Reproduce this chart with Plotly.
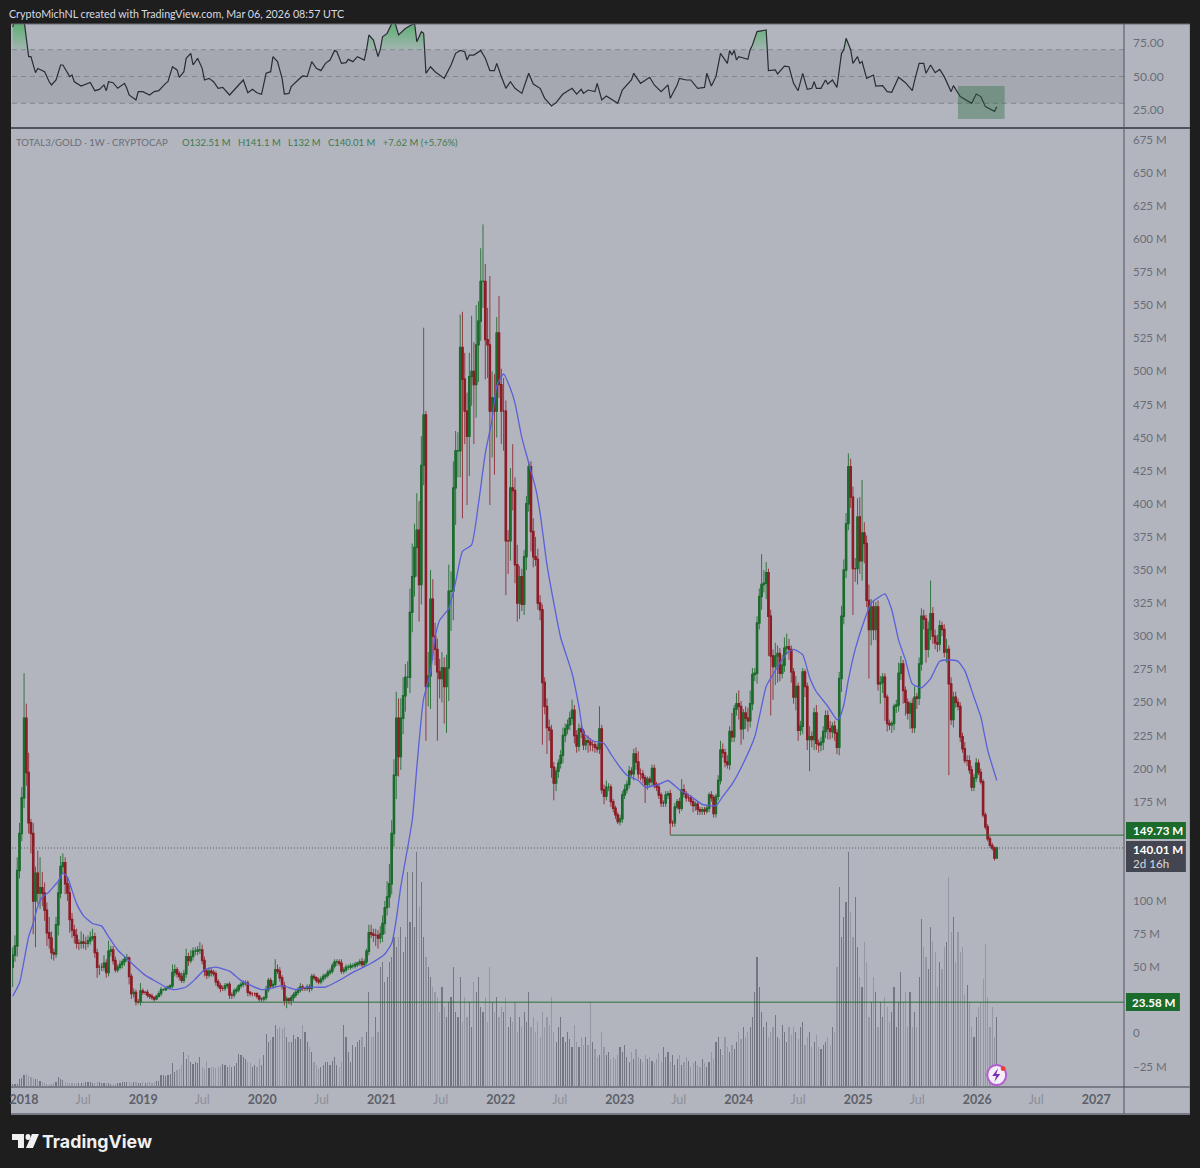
import pandas as pd
import plotly.graph_objects as go

# ---------- weekly data (one row = one quarter) ----------
closes = [
59,66,123,151,178,
238,197,159,151,100,121,106,110,106,93,76,72,61,
60,82,106,126,129,113,106,86,78,74,68,68,69,
68,68,70,72,73,61,50,50,50,53,46,62,63,
55,48,50,52,54,56,57,43,30,31,24,24,32,
31,31,29,28,27,26,28,30,33,33,34,35,36,
46,48,45,43,40,45,58,55,58,62,62,63,63,
55,47,44,47,46,45,39,36,34,34,36,37,29,
29,32,33,36,37,38,38,31,30,30,30,28,26,
26,27,33,40,36,37,48,47,42,36,25,26,25,
27,29,31,33,35,34,34,35,34,43,42,40,39,
41,43,44,46,47,51,54,54,53,47,48,50,50,
51,51,52,53,54,52,54,62,76,75,74,74,72,
75,83,95,103,113,151,195,238,209,238,255,269,269,
318,345,367,380,339,429,467,262,270,328,300,290,273,
268,276,262,276,334,334,412,440,440,518,494,470,451,
496,500,490,520,538,568,568,524,520,470,480,470,529,
490,470,470,372,372,412,410,354,325,345,324,360,400,
428,379,360,358,325,320,265,247,231,229,201,189,198,
204,210,225,230,233,238,244,225,217,230,228,218,221,
220,218,218,216,215,230,184,179,186,186,175,170,165,
160,162,180,184,188,198,196,211,205,196,196,193,188,
192,190,200,188,186,180,174,174,180,181,159,159,171,
175,170,184,181,178,178,175,172,173,169,168,169,168,
170,180,178,166,179,191,214,212,205,203,228,224,245,
249,247,230,242,238,236,249,271,272,310,330,339,340,
348,315,285,277,285,287,272,278,291,292,290,273,254,
262,229,232,273,262,222,224,222,242,219,218,220,228,
240,230,228,232,227,216,268,315,350,385,428,405,351,
351,390,357,378,370,327,305,322,305,322,264,265,269,
254,234,233,234,247,248,272,279,259,250,242,249,231,
254,253,279,315,313,290,305,317,300,295,294,308,305,
288,290,264,237,254,250,247,224,215,206,206,199,186,
193,204,197,190,165,156,147,142,140,132.51,140.01]

upper_wick = [
6,8,10,8,8,
34,11,15,3,8,5,17,23,12,8,6,12,5,
3,6,8,8,7,4,5,6,5,4,5,3,8,
6,5,4,5,6,3,3,2,3,6,3,8,3,
3,3,2,3,2,2,3,1,2,3,2,2,6,
2,1,2,1,2,1,1,2,2,1,1,1,1,
6,4,2,2,3,3,6,3,5,3,3,3,6,
4,3,2,3,2,2,2,2,2,2,2,1,2,
2,2,2,1,2,2,2,2,1,1,1,1,1,
1,1,3,2,2,3,8,4,3,2,3,2,1,
2,2,2,2,3,2,1,2,2,2,2,1,2,
2,2,1,2,2,2,2,2,2,3,2,2,2,
2,2,2,1,2,3,2,2,6,6,4,5,4,
6,6,5,12,15,10,12,20,15,15,14,10,12,
18,25,18,28,22,22,66,3,18,22,15,10,8,
10,12,8,10,20,15,20,15,14,25,27,20,14,
18,42,22,30,15,25,43,13,24,52,20,18,12,
28,12,25,8,8,15,33,10,15,8,6,5,6,
4,4,10,15,8,6,4,4,6,6,4,4,3,
3,4,6,4,4,5,8,4,4,4,3,2,3,
4,3,3,2,3,17,3,4,5,3,2,2,2,
2,3,3,4,3,4,3,4,5,8,4,3,2,
2,2,3,3,2,3,2,2,3,2,3,2,3,
2,3,8,4,2,3,2,2,2,2,2,2,2,
2,2,3,2,2,4,7,5,3,5,4,14,3,
8,10,4,3,5,8,10,5,4,5,6,23,10,
8,3,5,5,10,6,4,8,8,10,6,3,3,
8,3,4,3,2,3,8,4,4,6,3,4,4,
4,4,6,3,4,3,5,8,8,8,10,6,8,
8,14,15,40,8,6,12,6,5,4,5,5,3,
3,2,3,2,2,4,8,6,3,3,3,2,4,
8,3,5,6,5,3,6,25,5,5,6,4,3,
4,8,3,5,4,4,3,3,3,5,4,4,3,
3,4,3,3,2,2,2,2,2,1,1.09]

lower_wick = [
15,5,8,6,6,
8,10,8,15,25,35,8,12,10,8,10,8,5,
5,3,8,4,5,8,6,10,6,6,4,5,4,
4,5,3,3,2,4,8,6,3,3,4,3,4,
3,2,2,2,3,3,2,6,4,3,3,2,3,
2,2,2,2,2,2,1,1,2,1,1,1,1,
2,3,3,3,2,2,3,4,2,3,3,3,3,
3,4,3,2,3,2,3,2,3,2,2,2,3,
3,2,2,2,2,2,2,3,2,2,2,2,2,
2,2,2,2,2,2,2,2,3,3,4,6,3,
4,3,2,2,2,2,2,2,3,2,2,2,2,
2,2,2,2,2,2,2,3,2,2,2,2,2,
2,2,2,2,2,2,2,2,3,3,5,8,8,
4,6,8,6,8,8,10,18,15,10,12,12,8,
12,15,15,22,28,15,15,41,15,25,18,12,52,
15,18,28,35,25,30,22,28,20,20,105,25,52,
30,22,45,25,28,15,20,30,25,71,35,48,20,
10,25,30,41,25,15,15,14,14,12,5,8,10,
6,15,8,5,5,8,47,6,20,8,8,13,6,
5,4,6,5,4,4,5,6,5,4,5,4,4,
8,5,5,4,3,4,3,6,3,3,4,3,3,
2,3,3,3,3,3,2,5,6,4,5,4,14,
4,4,3,3,3,3,3,3,3,3,9,3,3,
2,4,2,3,3,3,3,5,4,4,3,3,3,
2,3,3,3,3,3,3,4,4,3,4,4,4,
5,10,12,8,8,8,5,5,5,8,5,10,6,
12,30,45,25,14,20,6,4,5,5,8,8,5,
10,8,4,6,8,8,24,6,8,5,6,5,6,
5,8,6,5,6,5,6,10,6,6,5,8,35,
10,12,10,15,15,5,37,12,8,8,5,15,8,
18,6,4,6,5,5,5,5,10,10,5,12,4,
4,8,5,5,8,10,6,8,6,5,6,5,5,
4,8,69,4,6,4,3,4,3,2,4,3,3,
3,3,2,2,2,2,2,2,2,2,0.51]

volume = [
3,3,3,8,9,
12,13,11,10,9,8,8,6,5,4,3,3,3,
4,5,10,8,7,5,4,4,4,4,4,4,4,
4,5,5,5,4,4,5,5,4,4,4,4,3,
3,3,4,4,5,5,5,5,4,5,5,4,4,
5,4,5,5,4,5,6,6,12,12,11,12,13,
24,15,17,18,22,35,28,32,25,23,25,24,30,
20,18,26,19,20,20,19,20,21,23,22,20,22,
20,21,24,33,32,30,28,25,24,20,22,20,28,
22,32,53,45,47,50,62,58,60,58,60,50,45,
45,52,48,50,48,62,55,45,40,35,25,22,18,
20,22,25,25,22,26,30,22,20,25,62,50,35,
25,42,40,45,47,50,40,55,95,50,50,70,55,
120,125,105,110,125,130,150,140,150,160,135,150,215,
165,215,160,235,180,205,150,130,120,110,100,95,90,
75,100,80,70,85,90,120,75,70,110,65,90,70,
85,60,105,95,110,80,75,90,65,120,85,75,90,
70,80,75,90,60,70,65,85,55,70,60,75,65,
95,60,70,55,65,50,75,60,70,62,90,55,45,
60,70,50,45,55,48,40,62,45,40,50,42,50,
42,85,45,38,30,32,55,40,32,35,28,30,28,
32,40,35,42,30,25,35,28,38,30,28,25,32,
28,30,26,24,28,34,25,40,30,35,25,32,22,
28,32,22,25,30,26,20,24,26,22,20,28,24,
20,25,35,28,45,50,38,32,50,40,35,42,38,
45,55,48,60,50,55,60,70,95,130,100,75,60,
65,50,55,60,72,50,48,62,55,45,60,52,60,
55,48,60,65,42,50,55,40,45,52,40,38,42,
45,50,42,60,55,120,200,150,170,185,235,175,150,
190,140,110,100,145,125,70,85,110,95,60,85,70,
90,80,65,75,100,60,85,115,85,95,60,95,60,
75,60,110,168,140,130,118,160,145,135,100,125,118,
140,145,210,155,170,125,155,135,140,93,102,85,60,
50,70,80,85,108,143,90,60,80,50,70]

ma_week = [0,3,5,7,9,11,13,16,18,20,22,24,26,28,31,35,39,42,46,49,54,58,63,67,71,76,80,84,89,95,100,109,113,118,124,129,137,143,150,156,163,166,168,170,
175,177,179,180,183,185,187,191,194,197,201,204,207,210,212,215,218,220,223,226,229,231,234,237,240,245,248,250,254,259,262,266,269,274,277,283,287,292,297,302,308,311,315,320,325,328,330,334,339,342,346,349,352,357,361,362,364,366,369,373,376,379,382,385,388,391,394,398,402,406,410,414,417,421,424,427,431]
ma_value = [28,38,55,73,83,96,103,107,111,115,121,118,108,98,89,83,81,73,63,58,50,44,39,35,33,35,41,48,50,47,40,33,34,36,33,35,35,40,47,52,60,68,86,111,
161,201,239,253,273,299,312,321,341,364,369,400,438,464,489,498,487,476,450,431,412,393,354,325,299,272,247,227,221,219,211,201,195,191,186,188,191,184,179,173,172,179,188,204,224,247,262,274,287,290,286,269,258,247,237,238,248,267,290,312,325,329,332,320,297,282,264,261,268,281,282,281,274,254,239,214,191]

rsi_week = [0,1,5,6,7,8,10,11,13,14,16,17,19,21,22,25,26,27,30,32,34,36,38,40,41,42,44,46,49,50,51,54,55,57,60,62,64,67,68,70,72,73,75,76,78,79,81,83,84,86,88,90,92,95,97,101,103,105,107,109,111,113,114,116,118,119,121,122,125,127,129,131,133,135,137,139,141,142,144,146,147,149,151,154,155,156,158,159,160,161,162,164,166,167,169,172,176,177,179,180,181,183,185,186,189,192,194,196,198,199,200,202,205,207,209,211,212,214,
216,218,220,223,226,228,231,233,236,238,241,245,247,249,250,252,255,256,258,260,265,267,271,272,275,279,281,284,287,288,291,292,295,297,300,303,304,306,308,310,313,314,315,316,317,318,322,323,324,326,330,331,334,335,338,340,342,344,346,348,350,351,352,354,356,357,359,361,362,363,364,365,367,368,370,371,372,374,377,378,381,383,385,388,391,394,395,397,399,400,402,404,406,408,411,412,415,420,422,424,426,430,431]
rsi_value = [87,92,92,77,64.8,64.8,52.9,56,54.4,53.6,46.1,43.7,47.4,58.6,58.6,49.9,51.1,46.1,42.9,44.4,45.6,39.4,40.4,43.7,39.4,46.1,45.4,41.2,44.9,41.2,36.2,32.5,38.7,38.7,36.2,38.7,39.4,44.9,46.1,57.3,54.9,49.4,53.6,63.6,67.3,58.6,63.6,56.1,47.4,48.6,46.1,41.2,41.9,36.2,39.9,47.4,37.9,40.4,37.9,36.7,52.4,53.6,64.8,61.1,48.6,36.9,37.4,42.4,47.4,50.4,49.9,61.1,56.1,54.4,59.8,62.3,69.5,68.5,59.8,60.3,62.8,61.1,64.8,62.3,70,81,77.2,70,64.8,70,79.7,82.2,89.7,93,81,85.8,89.9,76,83.5,82.2,52.4,57.3,53.6,52.4,48.6,58.6,67.3,69.5,68.5,62.3,66,66,69.5,63.6,54.4,54.4,59.8,50,
41.2,46.1,41.2,37.4,52.4,44.4,41.2,33.7,28,30.5,36.9,41.2,36.9,40.4,37.4,39.9,38.7,44.9,32.5,35.4,30,39.9,47.4,52.4,44.9,49.4,43.7,38.7,43.7,33.7,43.7,48.6,47.4,47.4,41.2,41.9,52.4,42.9,49.9,67.3,59.8,69.3,66,69.5,62.3,64.8,62.8,70,73.5,83.5,84.7,54.4,54.9,51.9,57.8,57.3,44.9,39.4,52.4,40.4,41.2,46.1,41.2,41.2,47.4,44.4,47.4,41.9,55,67.3,70,78.5,70,59.8,64.8,59.8,61.1,48.6,51.1,42.9,43.2,38.7,38.2,49.4,45.4,39.4,46.9,59.8,59.8,52.4,58.6,52.9,55.3,49.9,38.7,43.2,35,30,36.9,35,27.5,24,27.5]

low_anchor_week = 54
high_anchor_week = 288
support_level = 23.58
resist_level = 149.73
last_price = 140.01

price_ticks = [675,650,625,600,575,550,525,500,475,450,425,400,375,350,325,300,275,250,225,200,175,100,75,50,0,-25]
rsi_ticks = [75,50,25]
year_ticks = ["2018-01-01","2019-01-01","2020-01-01","2021-01-01","2022-01-01","2023-01-01","2024-01-01","2025-01-01","2026-01-01","2027-01-01"]
july_ticks = ["2018-07-01","2019-07-01","2020-07-01","2021-07-01","2022-07-01","2023-07-01","2024-07-01","2025-07-01","2026-07-01"]

n = len(closes)
if not (n == 432 == len(upper_wick) == len(lower_wick) == len(volume)) or len(ma_week) != len(ma_value) or len(rsi_week) != len(rsi_value):
    raise SystemExit(f"lengths {n} {len(upper_wick)} {len(lower_wick)} {len(volume)} {len(ma_week)} {len(ma_value)} {len(rsi_week)} {len(rsi_value)}")

dates = pd.date_range("2017-11-27", periods=n, freq="7D")
opens = [50] + closes[:-1]
opens[-1] = 132.51
highs = [max(o, c) + u for o, c, u in zip(opens, closes, upper_wick)]
lows = [min(o, c) - l for o, c, l in zip(opens, closes, lower_wick)]
body_top = [max(o, c) for o, c in zip(opens, closes)]
body_bot = [min(o, c) for o, c in zip(opens, closes)]

W, H = 1200, 1168
L, R, T, B = 10, 1124, 24, 1087
def xp(x): return (x - L) / (R - L)
def yp(y): return (B - y) / (B - T)

BG = "#b2b5be"
DARK = "#1e1e1e"
GREEN = "#1b6b2c"
RED = "#8c1c25"
FONT = "Lato"

fig = go.Figure()

vol_colors = ["rgba(95,98,110,0.75)" if c >= o else "rgba(125,128,140,0.55)" for o, c in zip(opens, closes)]
fig.add_trace(go.Bar(x=dates, y=volume, yaxis="y", marker=dict(color=vol_colors, line_width=0),
                     width=3.6 * 86400000, hoverinfo="skip", showlegend=False))

rsi_dates = [dates[i] for i in rsi_week]
fig.add_trace(go.Scatter(x=rsi_dates, y=[70] * len(rsi_week), yaxis="y2", mode="lines",
                         line=dict(width=0), hoverinfo="skip", showlegend=False))
fig.add_trace(go.Scatter(x=rsi_dates, y=[max(v, 70) for v in rsi_value], yaxis="y2", mode="lines",
                         line=dict(width=0), fill="tonexty",
                         fillgradient=dict(type="vertical", start=70, stop=90,
                                           colorscale=[[0, "rgba(70,175,95,0.15)"], [1, "rgba(70,175,95,0.8)"]]),
                         hoverinfo="skip", showlegend=False))
fig.add_trace(go.Scatter(x=rsi_dates, y=rsi_value, yaxis="y2", mode="lines",
                         line=dict(color="#2a2c33", width=1.2), hoverinfo="skip", showlegend=False))

# wicks: thin and slightly faded
fig.add_trace(go.Candlestick(x=dates, open=opens, high=highs, low=lows, close=closes, yaxis="y3",
                             increasing=dict(line=dict(color="rgba(27,107,44,0.85)", width=1), fillcolor="rgba(27,107,44,0.85)"),
                             decreasing=dict(line=dict(color="rgba(140,28,37,0.8)", width=1), fillcolor="rgba(140,28,37,0.8)"),
                             whiskerwidth=0, hoverinfo="skip", showlegend=False))
# bodies: heavier strokes over the wicks
fig.add_trace(go.Candlestick(x=dates, open=opens, high=body_top, low=body_bot, close=closes, yaxis="y3",
                             increasing=dict(line=dict(color=GREEN, width=1.4), fillcolor=GREEN),
                             decreasing=dict(line=dict(color=RED, width=1.4), fillcolor=RED),
                             whiskerwidth=0, hoverinfo="skip", showlegend=False))
fig.add_trace(go.Scatter(x=[dates[i] for i in ma_week], y=ma_value, yaxis="y3", mode="lines",
                         line=dict(color="#5b5fd8", width=1.3, shape="spline", smoothing=0.5),
                         hoverinfo="skip", showlegend=False))
fig.add_trace(go.Scatter(x=[dates[low_anchor_week], "2027-03-27"], y=[support_level] * 2, yaxis="y3", mode="lines",
                         line=dict(color="#2c6e35", width=1), hoverinfo="skip", showlegend=False))
fig.add_trace(go.Scatter(x=[dates[high_anchor_week], "2027-03-27"], y=[resist_level] * 2, yaxis="y3", mode="lines",
                         line=dict(color="#2c6e35", width=1), hoverinfo="skip", showlegend=False))
fig.add_trace(go.Scatter(x=["2017-11-25", "2027-03-27"], y=[last_price] * 2, yaxis="y3", mode="lines",
                         line=dict(color="#5a5c66", width=1, dash="1px,2px"), hoverinfo="skip", showlegend=False))

shapes = [
    dict(type="rect", xref="paper", yref="paper", x0=xp(9), x1=xp(1190), y0=yp(1114), y1=1,
         fillcolor=BG, line_width=0, layer="below"),
    dict(type="rect", xref="paper", yref="y2", x0=0, x1=1, y0=30, y1=70,
         fillcolor="rgba(120,123,134,0.22)", line_width=0, layer="below"),
    dict(type="rect", x0="2025-11-03", x1="2026-03-26", yref="y2", y0=18.2, y1=43,
         fillcolor="rgba(40,105,60,0.38)", line_width=0, layer="above"),
]
for lvl in (70, 50, 30):
    shapes.append(dict(type="line", xref="paper", yref="y2", x0=0, x1=1, y0=lvl, y1=lvl, layer="below",
                       line=dict(color="#85878f", width=1, dash="5px,4px")))
def hline(y, x0=9, x1=1190, color="#50535e", width=1):
    shapes.append(dict(type="line", xref="paper", yref="paper", x0=xp(x0), x1=xp(x1), y0=yp(y), y1=yp(y),
                       line=dict(color=color, width=width), layer="above"))
def vline(x, y0=24, y1=1114, color="#50535e", width=1):
    shapes.append(dict(type="line", xref="paper", yref="paper", x0=xp(x), x1=xp(x), y0=yp(y0), y1=yp(y1),
                       line=dict(color=color, width=width), layer="above"))
hline(24, color="#6a6c75")
hline(128, color="#50535e", width=2)
hline(1087, color="#787b86", width=2)
hline(1114, color="#787b86", width=2)
vline(1124)

def box(x0, y0, x1, y1, color):
    shapes.append(dict(type="rect", xref="paper", yref="paper", x0=xp(x0), x1=xp(x1), y0=yp(y1), y1=yp(y0),
                       fillcolor=color, line_width=0, layer="above"))
box(1126, 822, 1186, 839, GREEN)
box(1126, 841, 1186, 872, "#434651")
box(1126, 993, 1180, 1011, GREEN)

def path(points, color):
    d = "M" + " L".join(f"{xp(a):.5f},{yp(b):.5f}" for a, b in points) + " Z"
    shapes.append(dict(type="path", xref="paper", yref="paper", path=d, fillcolor=color, line_width=0, layer="above"))
# TradingView mark
path([(10, 1134), (22, 1134), (22, 1148), (16, 1148), (16, 1140), (10, 1140)], "#f0f0f0")
path([(30, 1134), (37, 1134), (31, 1148), (24, 1148)], "#f0f0f0")
shapes.append(dict(type="circle", xref="paper", yref="paper", x0=xp(23.5), x1=xp(28.5), y0=yp(1140), y1=yp(1134),
                   fillcolor="#f0f0f0", line_width=0, layer="above"))
# flash icon
shapes.append(dict(type="circle", xref="paper", yref="paper", x0=xp(987), x1=xp(1006), y0=yp(1085), y1=yp(1065),
                   fillcolor="#f4eff8", line=dict(color="#b45fd0", width=2), layer="above"))
path([(998, 1068), (992, 1076), (996, 1076), (994, 1082), (1000, 1074), (996, 1074)], "#7b2fb0")
shapes.append(dict(type="circle", xref="paper", yref="paper", x0=xp(1000.5), x1=xp(1005.5), y0=yp(1071), y1=yp(1066),
                   fillcolor="#e8413c", line_width=0, layer="above"))

def note(x, y, text, size=12, color="#6a6d78", anchor="left", family=FONT):
    return dict(xref="paper", yref="paper", x=xp(x), y=yp(y), text=text, showarrow=False, xanchor=anchor,
                yanchor="middle", align="left", font=dict(size=size, color=color, family=family))

annotations = [
    note(5, 13, "CryptoMichNL created with TradingView.com, Mar 06, 2026 08:57 UTC", 10.7, "#d8dae0"),
    note(12, 142, "TOTAL3/GOLD · 1W · CRYPTOCAP", 9.6, "#6a6d78"),
    note(178, 142, "O132.51 M   H141.1 M   L132 M   C140.01 M   +7.62 M (+5.76%)", 9.5, "#3e7a4c"),
    note(1131, 830.5, "<b>149.73 M</b>", 11.6, "#ffffff"),
    note(1131, 849, "<b>140.01 M</b>", 11.6, "#ffffff"),
    note(1131, 863, "2d 16h", 11.6, "#d8dae0"),
    note(1130, 1002, "<b>23.58 M</b>", 11.6, "#ffffff"),
    note(38, 1141, "<b>TradingView</b>", 17.8, "#f0f0f0", family="Inter"),
]

xticks = year_ticks + july_ticks
xtext = [f'<b>{d[:4]}</b>' for d in year_ticks] + ["<span style='color:#8b8e98'>Jul</span>"] * len(july_ticks)

fig.update_layout(
    width=W, height=H, autosize=False,
    margin=dict(l=L, r=W - R, t=T, b=H - B, pad=0),
    paper_bgcolor=DARK, plot_bgcolor=BG,
    showlegend=False, hovermode=False, bargap=0,
    font=dict(family=FONT, color="#6a6d78", size=12),
    shapes=shapes, annotations=annotations,
    xaxis=dict(type="date", range=["2017-11-25", "2027-03-27"], rangeslider=dict(visible=False),
               tickmode="array", tickvals=xticks, ticktext=xtext, showgrid=False, zeroline=False,
               ticks="", showline=False, tickfont=dict(size=12.5, color="#5d6069", family=FONT),
               ticklabelstandoff=3, anchor="y3"),
    yaxis=dict(domain=[0, yp(130)], range=[0, 957], visible=False, fixedrange=True),
    yaxis2=dict(domain=[yp(127), 1], range=[12.3, 89.2], side="right", anchor="x", showgrid=False, zeroline=False,
                tickmode="array", tickvals=rsi_ticks, ticktext=[f"{v:.2f}" for v in rsi_ticks], ticks="",
                ticklabelstandoff=8, showline=False, tickfont=dict(size=12, color="#6a6d78", family=FONT)),
    yaxis3=dict(domain=[0, yp(130)], overlaying="y", range=[-40.5, 682.3], side="right", anchor="x",
                showgrid=False, zeroline=False, showline=False, ticks="", ticklabelstandoff=8,
                tickmode="array", tickvals=price_ticks,
                ticktext=[(f"{v} M" if v > 0 else ("0" if v == 0 else f"−{-v} M")) for v in price_ticks],
                tickfont=dict(size=11.5, color="#6a6d78", family=FONT)),
)

fig.write_html("out.html", config=dict(displayModeBar=False),
               post_script="document.body.style.margin='0';document.body.style.background='#1e1e1e';")
